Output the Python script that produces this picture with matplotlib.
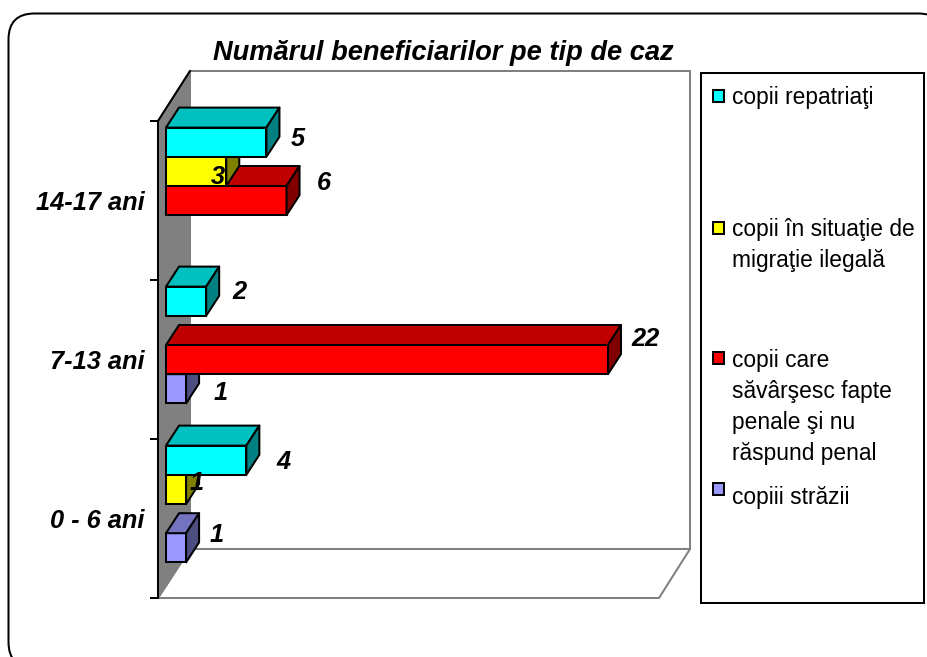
import numpy as np
import matplotlib
matplotlib.use('Agg')
import matplotlib.pyplot as plt
from matplotlib.patches import Polygon, FancyBboxPatch, Rectangle

categories = ['0 - 6 ani', '7-13 ani', '14-17 ani']
series_names = ['copii repatriaţi', 'copii în situaţie de\nmigraţie ilegală',
                'copii care\nsăvârşesc fapte\npenale şi nu\nrăspund penal', 'copiii străzii']
repatriati = [4, 2, 5]
migratie = [1, 0, 3]
fapte_penale = [0, 22, 6]
strazii = [1, 1, 0]
title = 'Numărul beneficiarilor pe tip de caz'

plt.rcParams['font.family'] = ['Liberation Sans', 'DejaVu Sans']
W, H = 927, 657
fig = plt.figure(figsize=(W / 100, H / 100), dpi=100)
LW = 1.45

# background layer, in pixels of the picture
bg = fig.add_axes([0, 0, 1, 1])
bg.set_xlim(0, W)
bg.set_ylim(H, 0)
bg.axis('off')
bg.add_patch(FancyBboxPatch((8.5, 13.5), 936, 654.5, boxstyle='round,pad=0,rounding_size=26',
                            fc='white', ec='black', lw=LW, clip_on=True))

# back wall, floor and side wall
bg.add_patch(Polygon([(190, 71), (690, 71), (690, 549), (190, 549)], fc='white', ec='#808080', lw=LW))
bg.add_patch(Polygon([(158, 598), (190, 549), (690, 549), (659, 598)], fc='white', ec='#808080', lw=LW))
bg.add_patch(Polygon([(158, 121), (190, 71), (190, 549), (158, 598)], fc='#808080', ec='#808080', lw=LW))
bg.plot([158, 190], [121, 71], color='black', lw=LW)

# front plane: one category per tick interval, values along x
x0_px, x1_px, y0_px, y1_px = 158, 659, 598, 121
ax = fig.add_axes([x0_px / W, 1 - y0_px / H, (x1_px - x0_px) / W, (y0_px - y1_px) / H])
ax.patch.set_visible(False)
px_per_unit = 20.09
ax.set_xlim((x0_px - 166) / px_per_unit, (x1_px - 166) / px_per_unit)
ax.set_ylim(-0.5, 2.5)
for s in ['top', 'right', 'bottom']:
    ax.spines[s].set_visible(False)
ax.spines['left'].set_linewidth(LW)
ax.set_xticks([])
ax.set_yticks([-0.5, 0.5, 1.5, 2.5])
ax.set_yticklabels([])
ax.set_yticks([0, 1, 2], minor=True)
ax.set_yticklabels(categories, minor=True, fontsize=18.3, fontweight='bold', fontstyle='italic')
ax.tick_params(axis='y', which='major', length=6, width=LW)
ax.tick_params(axis='y', which='minor', length=0, pad=9.5)

bar_h = 29.2 / 159
depth_x = 13 / px_per_unit
depth_y = 20 / 159
group_shift = 14.5 / 159
positions = np.arange(len(categories))

values = [repatriati, migratie, fapte_penale, strazii]
fronts = ['#00FFFF', '#FFFF00', '#FF0000', '#9999FF']
tops = ['#00C0C0', '#C0C000', '#C00000', '#7373BF']
sides = ['#008080', '#808000', '#800000', '#4D4D80']
slots = [1.5, 0.5, -0.5, -1.5]
# zorder: lower bars go first, upper ones cover them
for k in [3, 2, 1, 0]:
    z = 5 + (3 - k)
    for pos, v in zip(positions, values[k]):
        if v == 0:
            continue
        yc = pos + group_shift + slots[k] * bar_h
        lo, hi = yc - bar_h / 2, yc + bar_h / 2
        ax.barh(yc, v, height=bar_h, color=fronts[k], edgecolor='black', linewidth=LW, zorder=z, clip_on=False)
        ax.add_patch(Polygon([(0, hi), (depth_x, hi + depth_y), (v + depth_x, hi + depth_y), (v, hi)],
                             fc=tops[k], ec='black', lw=LW, zorder=z, clip_on=False, joinstyle='round'))
        ax.add_patch(Polygon([(v, lo), (v + depth_x, lo + depth_y), (v + depth_x, hi + depth_y), (v, hi)],
                             fc=sides[k], ec='black', lw=LW, zorder=z, clip_on=False, joinstyle='round'))

# data labels were moved by hand in the original, offsets in pixels
label_offsets = {
    (0, 0): (37, -2), (0, 1): (33, 9), (0, 2): (31, 3),
    (1, 0): (11, 6), (1, 2): (-8, -6),
    (2, 1): (38, 21), (2, 2): (37, 18),
    (3, 0): (31, 13), (3, 1): (35, -4),
}
for k in range(4):
    for pos, v in zip(positions, values[k]):
        if v == 0:
            continue
        yc = pos + group_shift + slots[k] * bar_h
        ax.annotate(str(v), (v, yc), xytext=label_offsets[(k, int(pos))], textcoords='offset pixels',
                    ha='center', va='center', fontsize=18.3, fontweight='bold', fontstyle='italic',
                    zorder=20, annotation_clip=False)

bg.text(443, 53, title, ha='center', va='center', fontsize=19.6, fontweight='bold', fontstyle='italic')

# legend
bg.add_patch(Rectangle((701, 73), 223, 530, fc='white', ec='black', lw=LW))
legend_y = [96, 228, 358, 489]
text_y = [97.5, 245, 407, 497.5]
for k, name in enumerate(series_names):
    bg.add_patch(Rectangle((713.5, legend_y[k] - 6), 11, 12, fc=fronts[k], ec='black', lw=LW))
    bg.text(732, text_y[k], name, ha='left', va='center', fontsize=16.4, linespacing=1.44)

fig.savefig('out.png', dpi=100)
